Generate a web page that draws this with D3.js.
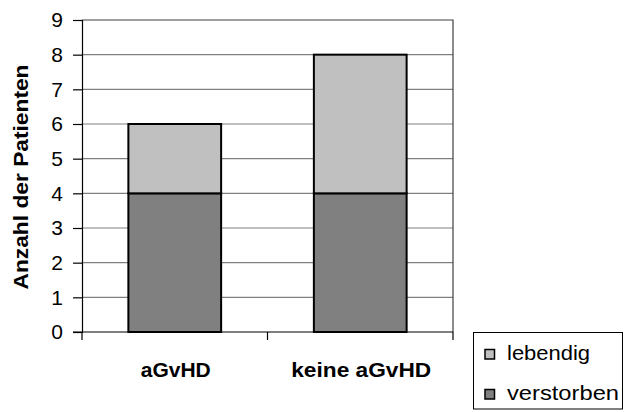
<!DOCTYPE html>
<html>
<head>
<meta charset="utf-8">
<script src="https://cdn.jsdelivr.net/npm/d3@7"></script>
<style>
  html, body { margin: 0; padding: 0; background: #fff; }
  svg { display: block; font-family: "Liberation Sans", Arial, sans-serif; }
</style>
</head>
<body>
<svg id="chart" width="625" height="412"></svg>
<script>
const categories = ["aGvHD", "keine aGvHD"];
const verstorben = [4, 4];
const lebendig = [2, 4];
const seriesNames = ["verstorben", "lebendig"];
const seriesColors = ["#808080", "#c0c0c0"];
const yTicks = [0, 1, 2, 3, 4, 5, 6, 7, 8, 9];
const yTitle = "Anzahl der Patienten";

(function () {
const svg = d3.select("#chart");
const mLeft = 82, mRight = 453, mTop = 20, mBottom = 332;

const x = d3.scaleBand().domain(categories).range([mLeft, mRight]).padding(0);
const y = d3.scaleLinear().domain([0, 9]).range([mBottom, mTop]);

// gridlines
svg.append("g").selectAll("line").data(yTicks.filter(d => d > 0 && d < 9)).join("line")
  .attr("x1", mLeft).attr("x2", mRight)
  .attr("y1", d => y(d)).attr("y2", d => y(d))
  .attr("stroke", "#808080").attr("stroke-width", 1.2);

// frame top/right
svg.append("path")
  .attr("d", `M${mLeft},${y(9)}H${mRight}V${mBottom}`)
  .attr("fill", "none").attr("stroke", "#404040").attr("stroke-width", 1.2);

// stacked bars
const table = categories.map((c, i) => ({ cat: c, verstorben: verstorben[i], lebendig: lebendig[i] }));
const stacked = d3.stack().keys(seriesNames)(table);
const bw = x.bandwidth() * 0.5;
svg.append("g").selectAll("g").data(stacked).join("g")
  .attr("fill", (d, i) => seriesColors[i])
  .selectAll("rect").data(d => d).join("rect")
  .attr("x", d => x(d.data.cat) + (x.bandwidth() - bw) / 2)
  .attr("width", bw)
  .attr("y", d => y(d[1]))
  .attr("height", d => y(d[0]) - y(d[1]))
  .attr("stroke", "#000").attr("stroke-width", 2);

// y axis
const yAxis = d3.axisLeft(y).tickValues(yTicks).tickSize(9).tickPadding(10).tickFormat(d3.format("d"));
const ya = svg.append("g").attr("transform", `translate(${mLeft},0)`).call(yAxis);
ya.select(".domain").attr("stroke", "#000").attr("stroke-width", 1.2);
ya.selectAll(".tick line").attr("stroke", "#000").attr("stroke-width", 1.2);
ya.selectAll(".tick text").attr("font-size", 21).attr("fill", "#000")
  .attr("font-family", "Liberation Sans, Arial, sans-serif");

// x axis line and boundary ticks
const boundaries = [mLeft, ...categories.slice(1).map(c => x(c)), mRight];
svg.append("line").attr("x1", mLeft - 9).attr("x2", mRight).attr("y1", mBottom).attr("y2", mBottom)
  .attr("stroke", "#000").attr("stroke-width", 1.2);
svg.append("g").selectAll("line").data(boundaries).join("line")
  .attr("x1", d => d).attr("x2", d => d).attr("y1", mBottom).attr("y2", mBottom + 8)
  .attr("stroke", "#000").attr("stroke-width", 1.2);

// category labels
const catWidths = [70, 140];
svg.append("g").selectAll("text").data(categories).join("text")
  .attr("x", d => x(d) + x.bandwidth() / 2 + 1)
  .attr("y", 377)
  .attr("text-anchor", "middle")
  .attr("font-size", 21).attr("font-weight", "bold")
  .attr("textLength", (d, i) => catWidths[i]).attr("lengthAdjust", "spacingAndGlyphs")
  .text(d => d);

// y title
svg.append("text")
  .attr("transform", "translate(28,177) rotate(-90)")
  .attr("text-anchor", "middle")
  .attr("font-size", 21).attr("font-weight", "bold")
  .attr("textLength", 225).attr("lengthAdjust", "spacingAndGlyphs")
  .text(yTitle);

// legend
const lg = svg.append("g");
lg.append("rect").attr("x", 473.5).attr("y", 332.5).attr("width", 149).attr("height", 76.5)
  .attr("fill", "#fff").attr("stroke", "#000").attr("stroke-width", 1);
const legendItems = [
  { name: "lebendig", color: seriesColors[1], w: 83 },
  { name: "verstorben", color: seriesColors[0], w: 112 }
];
const li = lg.selectAll("g.item").data(legendItems).join("g").attr("class", "item")
  .attr("transform", (d, i) => `translate(0,${i * 40})`);
li.append("rect").attr("x", 485).attr("y", 349.5).attr("width", 9.5).attr("height", 9.5)
  .attr("fill", d => d.color).attr("stroke", "#000").attr("stroke-width", 1.5);
li.append("text").attr("x", 507).attr("y", 360)
  .attr("font-size", 20)
  .attr("textLength", d => d.w).attr("lengthAdjust", "spacingAndGlyphs")
  .text(d => d.name);
})();
</script>
</body>
</html>
